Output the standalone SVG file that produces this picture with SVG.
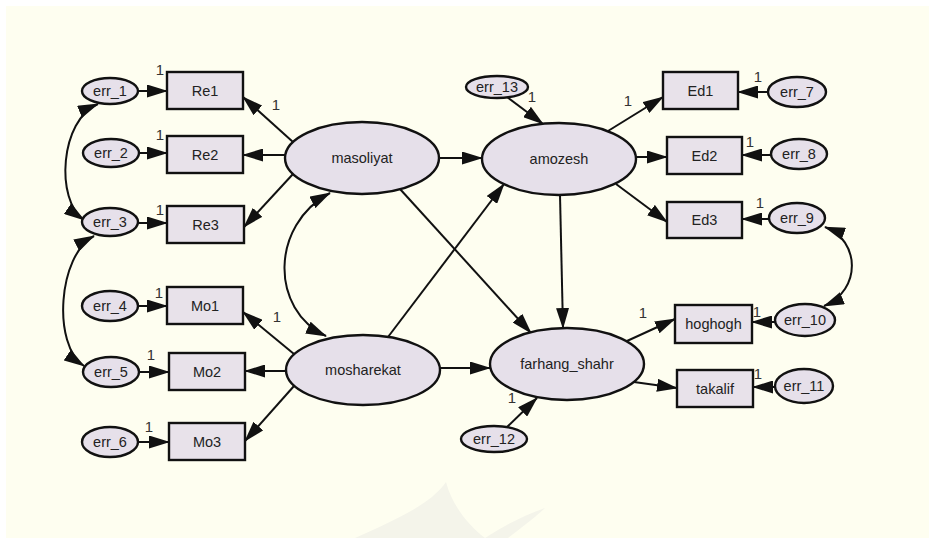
<svg xmlns="http://www.w3.org/2000/svg" width="929" height="538" viewBox="0 0 929 538">
<defs>
<style>
.obs{fill:#e8e2ea;stroke:#111;stroke-width:2.4}
.lat{fill:#e6e0ea;stroke:#111;stroke-width:2.4}
.err{fill:#e6e0ea;stroke:#111;stroke-width:2.4}
.t{font-family:"Liberation Sans",Arial,sans-serif;font-size:14.5px;fill:#222;text-anchor:middle;dominant-baseline:central}
.one{font-family:"Liberation Sans",Arial,sans-serif;font-size:15px;fill:#333;text-anchor:middle}
.c path{fill:none;stroke:#111;stroke-width:2;marker-end:url(#ah)}
.c path.dbl{marker-start:url(#ahs)}
</style>
<marker id="ah" markerWidth="21" markerHeight="13" refX="20" refY="6.5" orient="auto" markerUnits="userSpaceOnUse"><path d="M0,0 L21,6.5 L0,13 z" fill="#111"/></marker>
<marker id="ahs" markerWidth="21" markerHeight="13" refX="20" refY="6.5" orient="auto-start-reverse" markerUnits="userSpaceOnUse"><path d="M0,0 L21,6.5 L0,13 z" fill="#111"/></marker>
</defs>
<rect x="0" y="0" width="929" height="538" fill="#ffffff"/>
<rect x="6" y="6" width="923" height="532" fill="#fefef0"/>
<path d="M355,538 C395,520 430,505 446,482 C452,505 468,525 485,538 C505,525 525,515 545,508 C532,520 518,530 508,538 Z" fill="#f4f4ea"/>

<g class="c" id="connectors">
<path d="M138,91 L167,91"/>
<path d="M139,153 L167,153"/>
<path d="M138,223 L167,223"/>
<path d="M138,306 L167,306"/>
<path d="M139,372 L169,372"/>
<path d="M138,442 L169,442"/>
<path d="M293,142 L243,97"/>
<path d="M285,155 L243,155"/>
<path d="M293,174 L244,227"/>
<path d="M294,354 L243,312"/>
<path d="M286,371 L245,371"/>
<path d="M294,386 L245,441"/>
<path d="M439,158 L482,158"/>
<path d="M440,368 L490,368"/>
<path d="M400,189 L531,333"/>
<path d="M388,337 L504,184"/>
<path d="M560,195 L563,328"/>
<path d="M507,97 L543,124"/>
<path d="M608,131 L663,97"/>
<path d="M636,157 L667,157"/>
<path d="M616,184 L667,222"/>
<path d="M768,92 L738,92"/>
<path d="M771,155 L742,155"/>
<path d="M769,219 L742,219"/>
<path d="M775,322 L752,322"/>
<path d="M775,387 L753,387"/>
<path d="M627,341 L675,319"/>
<path d="M634,382 L677,388"/>
<path d="M506,428 L537,398"/>
<path class="dbl" d="M98,104 C60,120 55,200 84,220"/>
<path class="dbl" d="M94,236 C58,255 52,345 84,366"/>
<path class="dbl" d="M330,193 C270,225 270,310 326,336"/>
<path class="dbl" d="M825,227 C860,240 862,290 824,306"/>
</g>

<g id="labels">
<text class="one" x="160" y="75">1</text>
<text class="one" x="160" y="140">1</text>
<text class="one" x="160" y="215">1</text>
<text class="one" x="276" y="110">1</text>
<text class="one" x="159" y="298">1</text>
<text class="one" x="277" y="322">1</text>
<text class="one" x="151" y="360">1</text>
<text class="one" x="149" y="432">1</text>
<text class="one" x="532" y="102">1</text>
<text class="one" x="628" y="106">1</text>
<text class="one" x="758" y="82">1</text>
<text class="one" x="750" y="147">1</text>
<text class="one" x="760" y="208">1</text>
<text class="one" x="643" y="318">1</text>
<text class="one" x="757" y="317">1</text>
<text class="one" x="758" y="379">1</text>
<text class="one" x="512" y="403">1</text>
</g>

<g id="err_1"><ellipse class="err" cx="110" cy="91" rx="28" ry="13"/><text class="t" x="110" y="91">err_1</text></g>
<g id="err_2"><ellipse class="err" cx="111" cy="153" rx="28" ry="14"/><text class="t" x="111" y="153">err_2</text></g>
<g id="err_3"><ellipse class="err" cx="110" cy="222" rx="28" ry="14"/><text class="t" x="110" y="222">err_3</text></g>
<g id="err_4"><ellipse class="err" cx="110" cy="306" rx="28" ry="15"/><text class="t" x="110" y="306">err_4</text></g>
<g id="err_5"><ellipse class="err" cx="111" cy="372" rx="28" ry="15"/><text class="t" x="111" y="372">err_5</text></g>
<g id="err_6"><ellipse class="err" cx="110" cy="442" rx="28" ry="15"/><text class="t" x="110" y="442">err_6</text></g>

<g id="Re1"><rect class="obs" x="167" y="72" width="76" height="37"/><text class="t" x="205" y="90.5">Re1</text></g>
<g id="Re2"><rect class="obs" x="167" y="136" width="76" height="37"/><text class="t" x="205" y="154.5">Re2</text></g>
<g id="Re3"><rect class="obs" x="167" y="206" width="77" height="37"/><text class="t" x="205.5" y="224.5">Re3</text></g>
<g id="Mo1"><rect class="obs" x="167" y="287" width="76" height="37"/><text class="t" x="205" y="305.5">Mo1</text></g>
<g id="Mo2"><rect class="obs" x="169" y="353" width="76" height="37"/><text class="t" x="207" y="371.5">Mo2</text></g>
<g id="Mo3"><rect class="obs" x="169" y="423" width="76" height="37"/><text class="t" x="207" y="441.5">Mo3</text></g>

<g id="masoliyat"><ellipse class="lat" cx="362" cy="158" rx="77" ry="36"/><text class="t" x="362" y="158">masoliyat</text></g>
<g id="mosharekat"><ellipse class="lat" cx="363" cy="370" rx="77" ry="35"/><text class="t" x="363" y="370">mosharekat</text></g>
<g id="amozesh"><ellipse class="lat" cx="559" cy="159" rx="77" ry="36"/><text class="t" x="559" y="159">amozesh</text></g>
<g id="farhang_shahr"><ellipse class="lat" cx="567" cy="364" rx="77" ry="36"/><text class="t" x="567" y="364">farhang_shahr</text></g>

<g id="err_13"><ellipse class="err" cx="497" cy="87" rx="31" ry="11"/><text class="t" x="497" y="87">err_13</text></g>
<g id="err_12"><ellipse class="err" cx="494" cy="439" rx="33" ry="13"/><text class="t" x="494" y="439">err_12</text></g>

<g id="Ed1"><rect class="obs" x="663" y="72" width="75" height="37"/><text class="t" x="700.5" y="90.5">Ed1</text></g>
<g id="Ed2"><rect class="obs" x="667" y="137" width="75" height="37"/><text class="t" x="704.5" y="155.5">Ed2</text></g>
<g id="Ed3"><rect class="obs" x="667" y="202" width="75" height="36"/><text class="t" x="704.5" y="220">Ed3</text></g>
<g id="hoghogh"><rect class="obs" x="675" y="305" width="77" height="38"/><text class="t" x="713.5" y="324">hoghogh</text></g>
<g id="takalif"><rect class="obs" x="677" y="370" width="76" height="37"/><text class="t" x="715" y="388.5">takalif</text></g>

<g id="err_7"><ellipse class="err" cx="797" cy="92" rx="29" ry="15"/><text class="t" x="797" y="92">err_7</text></g>
<g id="err_8"><ellipse class="err" cx="799" cy="154" rx="28" ry="15"/><text class="t" x="799" y="154">err_8</text></g>
<g id="err_9"><ellipse class="err" cx="797" cy="218" rx="28" ry="15"/><text class="t" x="797" y="218">err_9</text></g>
<g id="err_10"><ellipse class="err" cx="805" cy="320" rx="30" ry="16"/><text class="t" x="805" y="320">err_10</text></g>
<g id="err_11"><ellipse class="err" cx="804" cy="386" rx="29" ry="17"/><text class="t" x="804" y="386">err_11</text></g>
</svg>
